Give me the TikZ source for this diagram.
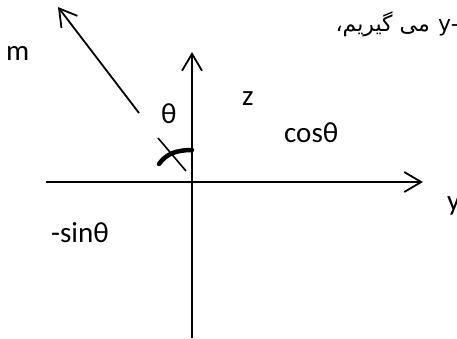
\documentclass[tikz,border=0pt]{standalone}
\usepackage{fontspec}
\setmainfont{Carlito}
\newfontfamily\arabicfont[Script=Arabic]{DejaVu Sans}
\newfontfamily\tahomalike{DejaVu Sans}
\TeXXeTstate=1
\usetikzlibrary{arrows.meta}
\tikzset{
  axis/.style={line width=1.8pt, -{Straight Barb[length=17pt,width=20pt,line width=1.8pt]}},
  plainline/.style={line width=1.6pt},
  anglearc/.style={line width=4.5pt, line cap=round},
  lbl/.style={inner sep=0pt, anchor=base west, font=\fontsize{29}{34}\selectfont},
  toptext/.style={inner sep=0pt, anchor=base east, font=\arabicfont\fontsize{22}{26}\selectfont}
}
\begin{document}
\begin{tikzpicture}[x=1pt,y=-1pt]
\useasboundingbox (0,0) rectangle (457,338);
% coordinates
\coordinate (hl) at (46,182);
\coordinate (hr) at (423,182);
\coordinate (vb) at (192,338);
\coordinate (vt) at (192,52);
\coordinate (mt) at (139,113);
\coordinate (mh) at (58,7);
\coordinate (s1) at (158,138);
\coordinate (s2) at (186,171);
\coordinate (a1) at (159,164);
\coordinate (a2) at (192,150);
% axes
\draw[axis] (hl) -- (hr);
\draw[axis] (vb) -- (vt);
\draw[axis] (mt) -- (mh);
\draw[plainline] (s1) -- (s2);
\draw[anglearc] (a1) .. controls (166,154) and (176,150) .. (a2);
% labels
\node[lbl] (m) at (6,60) {m};
\node[lbl] (th) at (161,123) {θ};
\node[lbl] (z) at (242,105) {z};
\node[lbl] (cos) at (284,142) {cosθ};
\node[lbl] (sin) at (51,242) {-sinθ};
\node[lbl] (y) at (447,210) {y};
\node[inner sep=0pt, anchor=base west, font=\tahomalike\fontsize{22}{26}\selectfont] (ytop) at (438,31) {y-};
\node[toptext] (fa) at (430,31) {\beginR می گیریم،\endR};
\end{tikzpicture}
\end{document}
